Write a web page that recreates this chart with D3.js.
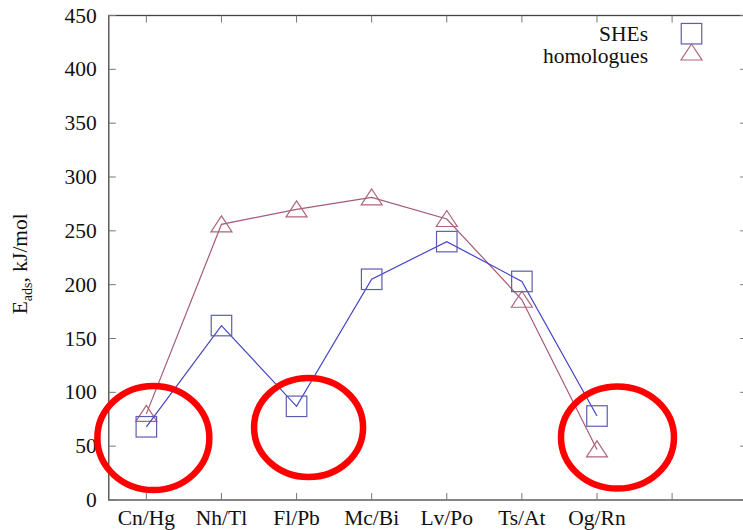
<!DOCTYPE html>
<html>
<head>
<meta charset="utf-8">
<script src="https://cdn.jsdelivr.net/npm/d3@7"></script>
<style>
  html, body { margin: 0; padding: 0; background: #fff; }
  svg { display: block; }
</style>
</head>
<body>
<script>
// Adsorption energies of superheavy elements and their lighter homologues
const categories = ["Cn/Hg", "Nh/Tl", "Fl/Pb", "Mc/Bi", "Lv/Po", "Ts/At", "Og/Rn"];
const sheValues = [68, 162, 87, 205, 240, 203, 78];
const homologueValues = [80, 256, 270, 281, 261, 186, 47];
const yTicks = [0, 50, 100, 150, 200, 250, 300, 350, 400, 450];
const xTickPositions = [1, 2, 3, 4, 5, 6, 7, 8];
const seriesNames = ["SHEs", "homologues"];
// highlighted pairs (category index) circled in red
const highlighted = [0, 2, 6];

const W = 743, H = 530;
const plotLeft = 108.8, plotRight = 747.2, plotTop = 15.5, plotBottom = 500;
const serif = "'Liberation Serif', 'Times New Roman', Times, serif";

const svg = d3.select("body").append("svg").attr("width", W).attr("height", H)
  .attr("font-family", serif).style("font-family", serif);

const x = d3.scaleLinear().domain([0.5, 9]).range([plotLeft, plotRight]);
const y = d3.scaleLinear().domain([0, 450]).range([plotBottom, plotTop]);

const axisColor = "#444";
const tickLen = 7;
const fs = 21.5;

// frame
svg.append("rect")
  .attr("x", plotLeft).attr("y", plotTop)
  .attr("width", plotRight - plotLeft).attr("height", plotBottom - plotTop)
  .attr("fill", "none").attr("stroke", axisColor).attr("stroke-width", 1.3);

// y ticks (left and mirrored right), inward
const yt = svg.append("g");
yTicks.forEach(v => {
  yt.append("line").attr("x1", plotLeft).attr("x2", plotLeft + tickLen)
    .attr("y1", y(v)).attr("y2", y(v)).attr("stroke", "#777").attr("stroke-width", 1);
  yt.append("line").attr("x1", plotRight).attr("x2", plotRight - tickLen)
    .attr("y1", y(v)).attr("y2", y(v)).attr("stroke", "#777").attr("stroke-width", 1);
  yt.append("text").attr("x", plotLeft - 12).attr("y", y(v) + 7)
    .attr("text-anchor", "end").attr("fill", "#111")
    .attr("font-size", fs).text(v);
});

// x ticks (bottom and mirrored top), inward
const xt = svg.append("g");
xTickPositions.forEach(p => {
  xt.append("line").attr("x1", x(p)).attr("x2", x(p))
    .attr("y1", plotBottom).attr("y2", plotBottom - tickLen).attr("stroke", "#777").attr("stroke-width", 1);
  xt.append("line").attr("x1", x(p)).attr("x2", x(p))
    .attr("y1", plotTop).attr("y2", plotTop + tickLen).attr("stroke", "#777").attr("stroke-width", 1);
});
categories.forEach((c, i) => {
  xt.append("text").attr("x", x(i + 1)).attr("y", 524.5)
    .attr("text-anchor", "middle").attr("fill", "#111").attr("font-size", fs).text(c);
});

// y axis title
const yl = svg.append("text")
  .attr("transform", `translate(27,${(plotTop + plotBottom) / 2 + 6}) rotate(-90)`)
  .attr("text-anchor", "middle").attr("fill", "#111").attr("font-size", fs);
yl.append("tspan").text("E");
yl.append("tspan").attr("font-size", 14).attr("dy", 5).text("ads");
yl.append("tspan").attr("dy", -5).text(", kJ/mol");

// series styling
const sheLine = "#4343c9", sheMark = "#5d5db0";
const homLine = "#a45a7a", homMark = "#b0647a";
const sq = 20.5;

const line = d3.line().x((d, i) => x(i + 1)).y(d => y(d));

function triPath(cx, cy) {
  const w = 21;
  return `M${cx},${cy - 8.5} L${cx + w / 2},${cy + 7.5} L${cx - w / 2},${cy + 7.5} Z`;
}

// homologues
svg.append("path").datum(homologueValues).attr("d", line)
  .attr("fill", "none").attr("stroke", homLine).attr("stroke-width", 1.2);
svg.append("g").selectAll("path").data(homologueValues).join("path")
  .attr("d", (d, i) => triPath(x(i + 1), y(d)))
  .attr("fill", "none").attr("stroke", homMark).attr("stroke-width", 1.2);

// SHEs
svg.append("path").datum(sheValues).attr("d", line)
  .attr("fill", "none").attr("stroke", sheLine).attr("stroke-width", 1.2);
svg.append("g").selectAll("rect").data(sheValues).join("rect")
  .attr("x", (d, i) => x(i + 1) - sq / 2).attr("y", d => y(d) - sq / 2)
  .attr("width", sq).attr("height", sq)
  .attr("fill", "none").attr("stroke", sheMark).attr("stroke-width", 1.2);

// legend
const lg = svg.append("g");
lg.append("text").attr("x", 648).attr("y", 40.5).attr("text-anchor", "end")
  .attr("fill", "#111").attr("font-size", fs).text(seriesNames[0]);
lg.append("text").attr("x", 648).attr("y", 62.5).attr("text-anchor", "end")
  .attr("fill", "#111").attr("font-size", fs).text(seriesNames[1]);
lg.append("rect").attr("x", 691.5 - sq / 2).attr("y", 33.7 - sq / 2)
  .attr("width", sq).attr("height", sq)
  .attr("fill", "none").attr("stroke", sheMark).attr("stroke-width", 1.2);
lg.append("path").attr("d", triPath(691.5, 52.5))
  .attr("fill", "none").attr("stroke", homMark).attr("stroke-width", 1.2);

// red circles around highlighted pairs
const ringOffsets = [
  { dx: 7, cy: 438, rx: 56, ry: 52 },
  { dx: 12, cy: 427.5, rx: 54.5, ry: 49.5 },
  { dx: 20.5, cy: 437.5, rx: 56.5, ry: 51 }
];
svg.append("g").selectAll("ellipse").data(highlighted).join("ellipse")
  .attr("cx", (d, k) => x(d + 1) + ringOffsets[k].dx)
  .attr("cy", (d, k) => ringOffsets[k].cy)
  .attr("rx", (d, k) => ringOffsets[k].rx)
  .attr("ry", (d, k) => ringOffsets[k].ry)
  .attr("fill", "none").attr("stroke", "#ff0000").attr("stroke-width", 6.5);
</script>
</body>
</html>
